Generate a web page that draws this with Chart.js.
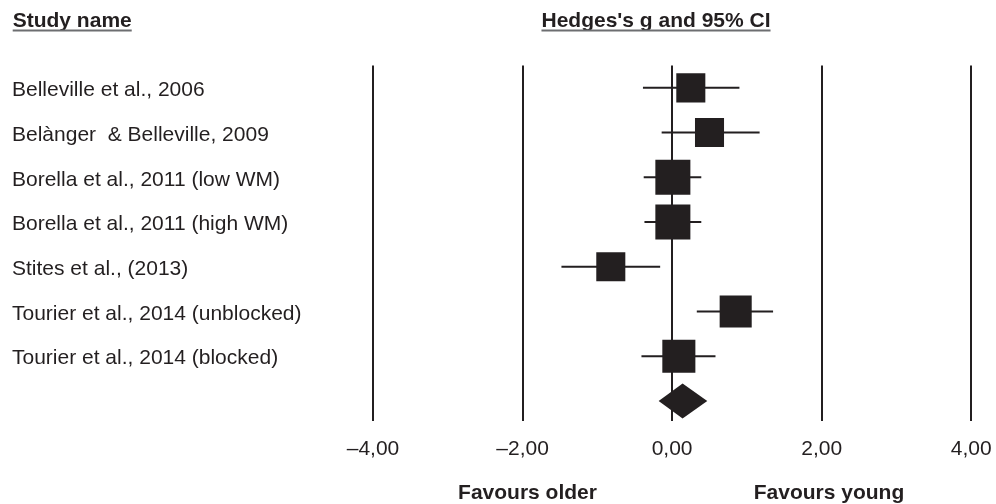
<!DOCTYPE html>
<html>
<head>
<meta charset="utf-8">
<script src="https://cdn.jsdelivr.net/npm/chart.js@4"></script>
<style>
  html, body { margin: 0; padding: 0; background: #fff; }
  #wrap { width: 996px; height: 504px; position: relative; }
</style>
</head>
<body>
<div id="wrap"><canvas id="forest"></canvas></div>
<script>
'use strict'

// studies, effect sizes (Hedges's g) and 95% CI
const studies = ['Belleville et al., 2006', 'Belànger  & Belleville, 2009', 'Borella et al., 2011 (low WM)',
  'Borella et al., 2011 (high WM)', 'Stites et al., (2013)', 'Tourier et al., 2014 (unblocked)', 'Tourier et al., 2014 (blocked)']
const hedgesG = [0.25, 0.50, 0.01, 0.01, -0.82, 0.85, 0.09]
const lowerCI = [-0.39, -0.14, -0.38, -0.37, -1.48, 0.33, -0.41]
const upperCI = [0.90, 1.17, 0.39, 0.39, -0.16, 1.35, 0.58]
const weights = [11.9, 11.9, 17.3, 17.3, 11.9, 14.5, 15.4]   // relative weight, %
const pooled = [-0.18, 0.14, 0.47]                         // lower, g, upper
const xTicks = [-4, -2, 0, 2, 4]

const ink = '#231f20'
const font = 'Liberation Sans, Arial, sans-serif'

// square side grows with sqrt of the weight
const radii = weights.map(w => Math.sqrt(w) * 8.42 / Math.SQRT2)

let datasets = [{
  type: 'scatter',
  data: hedgesG.map((g, i) => ({x: g, y: i})),
  pointStyle: 'rect',
  pointRadius: radii,
  pointBackgroundColor: ink,
  pointBorderWidth: 0
}]
for (let i = 0; i < studies.length; i++) {
  datasets.push({
    type: 'line',
    data: [{x: lowerCI[i], y: i}, {x: upperCI[i], y: i}],
    borderColor: ink,
    borderWidth: 2,
    pointRadius: 0
  })
}

const fmt = v => v.toFixed(2).replace('.', ',').replace('-', '\u2013')

const decor = {
  id: 'decor',
  afterDatasetsDraw(chart) {
    const {ctx, scales: {x, y}} = chart
    const cy = y.getPixelForValue(studies.length)
    const h = 17.5
    ctx.save()
    ctx.fillStyle = ink
    ctx.beginPath()
    ctx.moveTo(x.getPixelForValue(pooled[0]), cy)
    ctx.lineTo(x.getPixelForValue(pooled[1]), cy - h)
    ctx.lineTo(x.getPixelForValue(pooled[2]), cy)
    ctx.lineTo(x.getPixelForValue(pooled[1]), cy + h)
    ctx.closePath()
    ctx.fill()
    ctx.restore()
  },
  afterDraw(chart) {
    const ctx = chart.ctx
    ctx.save()
    ctx.fillStyle = ink
    ctx.font = 'bold 21px ' + font
    ctx.textBaseline = 'alphabetic'
    // column headers with underline
    const heads = [['Study name', 12.7, 'left'], ["Hedges's g and 95% CI", 656, 'center']]
    heads.forEach(([t, px, al]) => {
      const w = ctx.measureText(t).width
      ctx.textAlign = al
      ctx.fillStyle = ink
      ctx.fillText(t, px, 27)
      const left = al === 'left' ? px : px - w / 2
      ctx.fillStyle = '#6d6e71'
      ctx.fillRect(left, 29.5, w, 2)
    })
    ctx.fillStyle = ink
    ctx.textAlign = 'center'
    ctx.fillText('Favours older', 527.5, 499)
    ctx.fillText('Favours young', 829, 499)
    ctx.restore()
  }
}

new Chart(document.getElementById('forest'), {
  data: {datasets: datasets},
  options: {
    responsive: true,
    maintainAspectRatio: false,
    animation: false,
    events: [],
    layout: {padding: {left: 12, top: 65.5, right: 23.7, bottom: 0}},
    plugins: {legend: {display: false}, tooltip: {enabled: false}},
    scales: {
      x: {
        type: 'linear',
        min: -4,
        max: 4,
        afterBuildTicks: s => { s.ticks = xTicks.map(v => ({value: v})) },
        afterFit: s => { s.height = 83; s.paddingRight = 0; s.paddingLeft = 0 },
        grid: {color: ink, lineWidth: 2, drawTicks: false},
        border: {display: false},
        ticks: {
          color: ink,
          font: {family: font, size: 21},
          padding: 15.5,
          maxRotation: 0,
          callback: v => fmt(v)
        }
      },
      y: {
        type: 'linear',
        reverse: true,
        min: -0.5,
        max: 7.45,
        afterBuildTicks: s => { s.ticks = studies.map((_, i) => ({value: i})) },
        afterFit: s => { s.width = 361 },
        grid: {display: false},
        border: {display: false},
        ticks: {
          color: ink,
          font: {family: font, size: 21},
          crossAlign: 'far',
          labelOffset: 2.5,
          callback: v => studies[v]
        }
      }
    }
  },
  plugins: [decor]
})
</script>
</body>
</html>
